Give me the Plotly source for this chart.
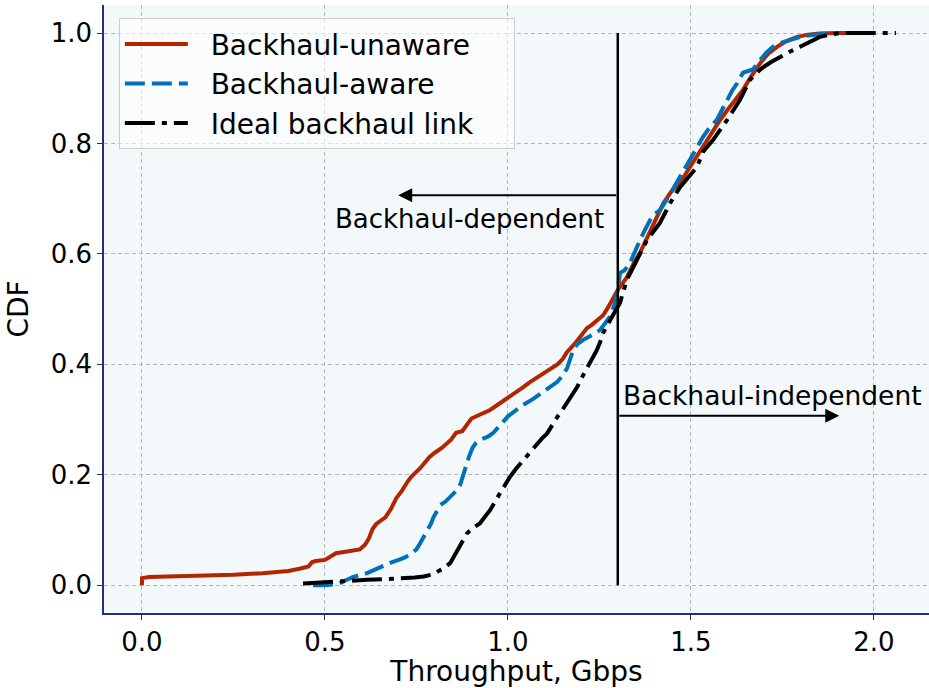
import plotly.graph_objects as go

# Empirical CDF samples of user throughput (Gbps) for the three schemes
unaware_x = [0.0, 0.0, 0.02, 0.15, 0.25, 0.33, 0.40, 0.43, 0.455, 0.465, 0.475, 0.50, 0.515, 0.53,
             0.56, 0.595, 0.61, 0.62, 0.63, 0.64, 0.665, 0.68, 0.695, 0.71, 0.725, 0.735, 0.76,
             0.785, 0.80, 0.82, 0.845, 0.858, 0.875, 0.89, 0.90, 0.93, 0.95, 0.97, 0.99, 1.005,
             1.02, 1.04, 1.06, 1.08, 1.10, 1.135, 1.15, 1.16, 1.183, 1.20, 1.215, 1.23, 1.26,
             1.275, 1.287, 1.30, 1.325, 1.345, 1.36, 1.375, 1.39, 1.41, 1.425, 1.443, 1.46,
             1.478, 1.50, 1.516, 1.533, 1.56, 1.58, 1.60, 1.62, 1.642, 1.665, 1.69, 1.71, 1.735,
             1.76, 1.79, 1.82, 1.85, 1.90, 1.99]
unaware_cdf = [0.0, 0.013, 0.015, 0.017, 0.019, 0.022, 0.026, 0.030, 0.034, 0.042, 0.044, 0.046,
               0.052, 0.058, 0.061, 0.065, 0.074, 0.085, 0.102, 0.111, 0.123, 0.138, 0.158, 0.171,
               0.187, 0.196, 0.212, 0.232, 0.240, 0.249, 0.264, 0.276, 0.279, 0.292, 0.302, 0.311,
               0.317, 0.326, 0.335, 0.341, 0.348, 0.358, 0.368, 0.376, 0.386, 0.400, 0.410, 0.421,
               0.438, 0.452, 0.465, 0.472, 0.489, 0.505, 0.520, 0.535, 0.558, 0.585, 0.601, 0.622,
               0.642, 0.668, 0.692, 0.710, 0.722, 0.737, 0.760, 0.777, 0.795, 0.823, 0.843, 0.861,
               0.878, 0.897, 0.922, 0.946, 0.962, 0.975, 0.985, 0.993, 0.997, 0.999, 1.0, 1.0]

aware_x = [0.467, 0.50, 0.53, 0.545, 0.56, 0.577, 0.60, 0.615, 0.635, 0.658, 0.68, 0.705, 0.72,
           0.735, 0.75, 0.76, 0.77, 0.78, 0.79, 0.797, 0.806, 0.815, 0.83, 0.845, 0.86, 0.87,
           0.877, 0.884, 0.893, 0.903, 0.913, 0.925, 0.945, 0.96, 0.975, 0.99, 1.0, 1.02, 1.04,
           1.07, 1.096, 1.115, 1.134, 1.15, 1.162, 1.17, 1.178, 1.19, 1.205, 1.23, 1.251, 1.265,
           1.279, 1.292, 1.30, 1.306, 1.318, 1.333, 1.342, 1.352, 1.37, 1.388, 1.40, 1.415, 1.44,
           1.47, 1.497, 1.515, 1.533, 1.55, 1.571, 1.585, 1.598, 1.612, 1.626, 1.642, 1.669,
           1.689, 1.705, 1.724, 1.75, 1.77, 1.80, 1.825, 1.85, 1.88]
aware_cdf = [0.0, 0.0, 0.002, 0.005, 0.010, 0.015, 0.019, 0.022, 0.028, 0.035, 0.041, 0.047,
             0.051, 0.057, 0.065, 0.076, 0.088, 0.097, 0.112, 0.124, 0.136, 0.145, 0.152, 0.161,
             0.172, 0.183, 0.198, 0.215, 0.232, 0.249, 0.258, 0.264, 0.269, 0.276, 0.288, 0.300,
             0.306, 0.316, 0.326, 0.338, 0.350, 0.360, 0.368, 0.380, 0.394, 0.410, 0.426, 0.437,
             0.444, 0.453, 0.462, 0.474, 0.487, 0.510, 0.535, 0.566, 0.570, 0.583, 0.595, 0.612,
             0.638, 0.661, 0.672, 0.679, 0.705, 0.739, 0.770, 0.792, 0.812, 0.828, 0.843, 0.861,
             0.879, 0.895, 0.909, 0.928, 0.934, 0.951, 0.964, 0.975, 0.983, 0.987, 0.993, 0.996,
             0.998, 1.0]

ideal_x = [0.44, 0.48, 0.522, 0.57, 0.615, 0.66, 0.705, 0.745, 0.77, 0.79, 0.806, 0.825, 0.842,
           0.852, 0.861, 0.875, 0.888, 0.905, 0.923, 0.937, 0.951, 0.965, 0.978, 0.992, 1.005,
           1.022, 1.041, 1.06, 1.079, 1.093, 1.107, 1.12, 1.134, 1.148, 1.161, 1.175, 1.189,
           1.205, 1.224, 1.243, 1.252, 1.26, 1.279, 1.298, 1.306, 1.315, 1.325, 1.352, 1.38,
           1.398, 1.415, 1.43, 1.443, 1.47, 1.489, 1.516, 1.533, 1.56, 1.598, 1.615, 1.634,
           1.648, 1.661, 1.68, 1.697, 1.72, 1.743, 1.77, 1.798, 1.825, 1.852, 1.88, 1.907, 1.95,
           2.06]
ideal_cdf = [0.003, 0.005, 0.006, 0.008, 0.010, 0.011, 0.012, 0.014, 0.016, 0.019, 0.024, 0.031,
             0.040, 0.052, 0.063, 0.078, 0.094, 0.104, 0.112, 0.124, 0.136, 0.152, 0.167, 0.182,
             0.196, 0.211, 0.226, 0.241, 0.257, 0.266, 0.275, 0.290, 0.304, 0.317, 0.330, 0.345,
             0.359, 0.380, 0.402, 0.426, 0.441, 0.457, 0.480, 0.504, 0.511, 0.532, 0.553, 0.589,
             0.625, 0.641, 0.656, 0.675, 0.692, 0.721, 0.736, 0.757, 0.785, 0.806, 0.842, 0.860,
             0.879, 0.898, 0.915, 0.928, 0.938, 0.948, 0.957, 0.966, 0.975, 0.985, 0.993, 0.997,
             1.0, 1.0, 1.0]

series_names = ["Backhaul-unaware", "Backhaul-aware", "Ideal backhaul link"]
x_ticks = [0.0, 0.5, 1.0, 1.5, 2.0]
y_ticks = [0.0, 0.2, 0.4, 0.6, 0.8, 1.0]

threshold = 1.3          # throughput splitting the two regimes
left_arrow_cdf = 0.706
right_arrow_cdf = 0.307

FONT = "DejaVu Sans"
RED = "#b32400"
BLUE = "#0070b8"
SPINE = "#1f2d86"
NBSP = "\u00a0"


def legend_label(name):
    # pad the legend entry so the text sits clear of the line sample
    return NBSP * 2 + name + NBSP * 4


fig = go.Figure()
fig.add_trace(go.Scatter(x=unaware_x, y=unaware_cdf, mode="lines",
                         name=legend_label(series_names[0]), legendgroup="a",
                         line=dict(color=RED, width=4)))
fig.add_trace(go.Scatter(x=aware_x, y=aware_cdf, mode="lines",
                         name=legend_label(series_names[1]), legendgroup="b",
                         line=dict(color=BLUE, width=4, dash="20px,7px")))
fig.add_trace(go.Scatter(x=ideal_x, y=ideal_cdf, mode="lines",
                         name=legend_label(series_names[2]), legendgroup="c",
                         line=dict(color="black", width=4, dash="30px,7px,5px,7px")))

# threshold marker
fig.add_shape(type="line", x0=threshold, x1=threshold, y0=0, y1=1, xref="x", yref="y",
              line=dict(color="black", width=2.5))

# regime arrows
fig.add_annotation(x=0.70, y=left_arrow_cdf, ax=threshold, ay=left_arrow_cdf,
                   xref="x", yref="y", axref="x", ayref="y", text="", showarrow=True,
                   arrowhead=2, arrowsize=1.4, arrowwidth=2, arrowcolor="black")
fig.add_annotation(x=1.905, y=right_arrow_cdf, ax=threshold, ay=right_arrow_cdf,
                   xref="x", yref="y", axref="x", ayref="y", text="", showarrow=True,
                   arrowhead=2, arrowsize=1.4, arrowwidth=2, arrowcolor="black")
fig.add_annotation(x=0.896, y=0.663, xref="x", yref="y", text="Backhaul-dependent",
                   showarrow=False, font=dict(family=FONT, size=26, color="black"))
fig.add_annotation(x=1.722, y=0.344, xref="x", yref="y", text="Backhaul-independent",
                   showarrow=False, font=dict(family=FONT, size=26.5, color="black"))

axis_common = dict(
    showgrid=True, gridcolor="#b5b5b5", gridwidth=1, griddash="4px,3px",
    zeroline=False, showline=True, linecolor=SPINE, linewidth=1.5, mirror=False,
    ticks="outside", ticklen=5, tickwidth=1, tickcolor="#333333",
    tickfont=dict(family=FONT, size=26, color="black"), tickformat=".1f",
)
fig.update_xaxes(range=[-0.1038, 2.1503], tickvals=x_ticks,
                 title=dict(text="Throughput, Gbps", font=dict(family=FONT, size=28, color="black"),
                            standoff=9),
                 **axis_common)
fig.update_yaxes(range=[-0.0502, 1.0507], tickvals=y_ticks,
                 title=dict(text="CDF", font=dict(family=FONT, size=28, color="black"),
                            standoff=14),
                 **axis_common)

fig.update_layout(
    width=929, height=688,
    margin=dict(l=104, r=0, t=5, b=75, autoexpand=False),
    plot_bgcolor="#f3f8fb", paper_bgcolor="white",
    font=dict(family=FONT, color="black"),
    showlegend=True,
    legend=dict(x=0.018, y=0.978, xanchor="left", yanchor="top",
                bgcolor="rgba(255,255,255,0.6)", bordercolor="#cccccc", borderwidth=1,
                font=dict(family=FONT, size=28, color="black"),
                itemwidth=63, tracegroupgap=11, traceorder="normal"),
)

fig.write_html("out.html")
